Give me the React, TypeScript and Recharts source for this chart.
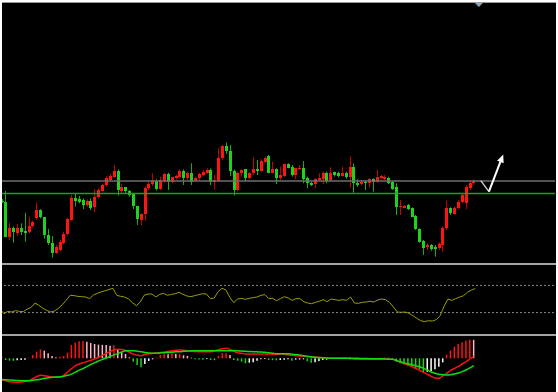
import { ComposedChart, Bar, Line, XAxis, YAxis, ReferenceLine, ReferenceDot, Cell } from 'recharts';

// price candles (arbitrary price units)
const opens = [
  62.5, 61.3, 26.3, 34.7, 30.3, 34.7, 32, 30.7, 37, 44.7,
  52.7, 45.7, 28, 20.3, 10.3, 13, 19.7, 28.7, 43, 65.3,
  63.7, 63, 58, 61.7, 55.7, 66.3, 72.3, 78, 83, 86.3,
  92, 72, 75.7, 72, 68.7, 57, 43, 49, 74.7, 79,
  82.3, 73.7, 82, 88.7, 81.3, 84.7, 85.7, 92.3, 84.7, 90.3,
  82, 84.7, 88, 90.3, 93, 81.3, 82.3, 105.3, 117.3, 112.3,
  92.3, 73, 89.7, 93.7, 84.7, 89.7, 93.7, 92.3, 101.3, 107,
  90.3, 93.7, 84.7, 87, 99, 96.3, 88, 94, 95.3, 85.3,
  80.3, 78.7, 83, 84, 90.3, 83, 90.7, 90.3, 87.3, 89.7,
  85.7, 96.3, 80.3, 78.7, 81.3, 79.7, 83.7, 81.3, 84.7, 83.7,
  85.3, 81.3, 75.7, 55.7, 55.3, 58, 54.7, 47, 33.7, 22,
  15.7, 18, 16.3, 14.7, 18, 34.7, 54.7, 48.7, 54.7, 61.3,
  60.3, 74.7, 80,
];
const highs = [
  64, 72, 40.3, 36.3, 39, 39.7, 50.3, 46.3, 42.3, 60.3,
  53.7, 45.7, 34, 27, 18, 23, 31.3, 45.3, 68, 69,
  67, 64.7, 63.7, 64.7, 73.7, 74.7, 79.7, 87, 89, 98,
  93.7, 79.7, 75.7, 73, 68.7, 57, 49.7, 76.3, 81.3, 89.7,
  83.7, 86.3, 90.3, 90.3, 86.3, 88, 93.7, 93.7, 91.3, 99.7,
  86.3, 90.3, 93, 94.7, 94.7, 88, 114.7, 118, 120.3, 118,
  93.7, 91.3, 93.7, 93.7, 91.3, 105.7, 103, 103.7, 106.3, 108,
  101.3, 94.7, 96.3, 99.7, 99.7, 98, 95.3, 98, 102, 86.3,
  81.3, 84.7, 89.7, 91.3, 91.3, 95.7, 91.3, 91.3, 96.3, 91.3,
  106.3, 99.7, 83.7, 83, 83, 84.7, 84.7, 93, 88, 88,
  86.3, 82, 79.7, 63, 58, 59, 55.7, 48, 34.7, 23,
  19.7, 19, 18, 20.3, 36.3, 62.3, 55.7, 56.3, 63, 69.7,
  78, 83, 83.7,
];
const lows = [
  60, 25.7, 23, 20.3, 27, 28, 21.3, 29.7, 35.7, 43,
  44.7, 24.3, 18, 5.3, 9, 11.3, 18.7, 27.3, 42.3, 56.3,
  59.7, 54, 56.3, 53, 50.7, 64.7, 71.3, 76.3, 82, 85.3,
  67.3, 69.7, 69, 66.3, 54, 38, 38, 42.3, 73, 77,
  72.3, 73, 80.3, 73, 79.7, 83.7, 84.7, 78, 83, 78,
  81, 83, 87, 89.3, 78, 73.7, 81.3, 103, 109, 87,
  67.3, 72, 86.3, 81.3, 83.7, 88, 88, 90.7, 99.7, 89.7,
  89.7, 79, 83, 86.3, 94.7, 86.3, 83.7, 93, 79.7, 74.7,
  77, 74.7, 82.3, 79, 79.7, 81.3, 86.3, 85.7, 86.3, 84.3,
  75.7, 70.3, 76.3, 77.7, 73, 75.7, 71.3, 80.3, 83.7, 83,
  79, 73, 48, 48, 54.7, 53, 45.7, 33, 20.3, 8,
  13, 12.3, 6.3, 13, 11.3, 33, 48, 48, 53.7, 59.7,
  53.7, 73, 78,
];
const closes = [
  60.7, 25.7, 35.3, 30.7, 35.3, 31.3, 30.3, 37.3, 40.7, 53,
  45.7, 28.3, 19.7, 10.3, 15.7, 21.3, 29, 43.7, 65.3, 62.3,
  61.3, 58, 62, 54.7, 66.3, 73, 78, 84.7, 87.3, 92.3,
  73, 75.7, 72, 68, 57, 43.7, 49, 75.3, 78.7, 82.3,
  74, 83, 88.7, 81.3, 85.7, 87, 92.3, 84.7, 90.3, 81.3,
  85.3, 88.7, 91.3, 93, 81.3, 83, 105.3, 117.3, 112.3, 92.3,
  73, 89.7, 93, 85.3, 89.7, 93.7, 92, 102, 105.3, 90.3,
  93.7, 84.7, 88, 99, 95.3, 88, 94.7, 95.3, 84, 79.7,
  78, 83.7, 85.3, 90.3, 82.3, 90.3, 88, 87, 89.7, 85.7,
  96.3, 79.7, 78, 81.3, 80.3, 83.7, 81.3, 86.3, 87, 86.3,
  80.3, 74, 55.7, 57, 57, 54, 46.3, 33.7, 21.3, 14.7,
  18, 13.7, 13.7, 18.7, 35.3, 54.7, 50.3, 55.3, 61.3, 68,
  75.7, 80.3, 82.3,
];

const rsi = [
  35.3, 28.4, 31.8, 30.9, 32.8, 31.8, 31.4, 35.3, 37.7, 44.1,
  40.7, 36.3, 33.3, 30.9, 32.3, 36.3, 41.7, 48.1, 55.4, 54.9,
  53.9, 53.4, 52.9, 50.5, 55.9, 58.3, 60.5, 62.2, 64, 65.7,
  55.4, 53.9, 52.9, 50, 44.6, 40.2, 45.6, 55.4, 57.3, 57.3,
  52.9, 56.8, 58.3, 55.4, 56.8, 57.8, 59.8, 56.8, 54.4, 53.4,
  54.9, 56.4, 57.8, 57.3, 50.5, 51.5, 60.8, 65.7, 63.2, 52.4,
  44.6, 50, 51, 49.5, 51, 52, 52.9, 55.4, 56.4, 50.5,
  51, 47.5, 50.5, 53.4, 51.5, 48, 50.5, 50.5, 46, 44.1,
  43.1, 45.1, 46.6, 49, 46, 50, 49, 48, 49, 48,
  52.9, 44.1, 43.6, 45.1, 45.6, 46.6, 45.6, 48.5, 50, 49,
  45.1, 38.2, 30.9, 30.4, 30.9, 28.9, 25.5, 21.6, 18.1, 16.7,
  18.1, 17.6, 19.6, 25.5, 39.2, 50, 48, 50.5, 52.9, 54.9,
  59.8, 63.2, 65.2,
];

const macdHist = [
  3, -5, -7, -7.5, -6, -5, -4, 2, 10, 20,
  27, 23, 15, 7, 3, 5, 7, 17, 40, 47,
  51, 52, 50, 46, 43, 41, 40.5, 40, 38, 39,
  27, 20, 13, 3, -10, -20, -27, -17, -8, -3,
  2, 10, 13, 12.5, 15, 13, 13.5, 9, 7, 2,
  -3, -3.5, -4, -2, -5, -5.5, 7, 15, 15.5, 10,
  -5, -7, -10, -15, -13, -12, -7, -3, -2, -5,
  -5.5, -6, -5, -4.5, -3, -7, -4, -3.5, -3, -9,
  -13, -12, -8, -5, -4, 2, 2.5, 2, 3, 2,
  4, -3.5, -3, -3, -2.5, -3, -2.5, -2, 2, 2.5,
  2, -5, -10, -15, -18, -22, -25, -30, -33, -41,
  -40, -38, -33, -25, -12, 11, 23, 35, 43, 48,
  53, 56, 55.5,
];
const macdMain = [
  -64, -67, -70, -71, -71.5, -71, -69.5, -67, -61, -55,
  -51, -52, -54, -56.5, -57, -57, -51.5, -41, -31, -22,
  -17, -13, -9.5, -6, -2, 3.5, 9, 15, 20.5, 26,
  27.5, 26.5, 23.5, 18, 12.5, 9, 8, 12, 13.5, 15,
  16, 17.5, 19, 21, 22.5, 24, 25, 24, 22.5, 21.5,
  20.5, 20, 20, 20, 20, 22, 26, 28.5, 30, 27,
  21, 16.5, 15, 13, 13, 13, 13, 13, 13, 13,
  12.5, 12, 13, 12, 10.5, 9, 8, 7, 6, 5,
  4, 3.5, 3, 2, 1, 0, 0, 0, 0, 0,
  -1, -2, -3, -3, -3, -3, -3, -3, -2.5, -2,
  -2.5, -3, -7, -12, -16, -20, -25, -30, -36, -42,
  -48, -54, -59, -60, -52, -45, -36, -30, -24, -17,
  -10, -2, 6,
];
const macdSignal = [
  -63.5, -64, -65, -66, -66.5, -67, -67, -67, -66, -64.5,
  -62.5, -60.5, -58.5, -57, -56, -55, -53.5, -51, -47.5, -41.5,
  -35.5, -30.5, -24, -18.5, -13, -8, -3, 1, 5.5, 10.5,
  15, 19, 22.5, 23, 23, 21.5, 19.5, 17.5, 16, 15,
  15.5, 16, 17, 17.5, 18.5, 19.5, 20, 21, 22, 22.5,
  23, 23, 23, 23, 23, 23, 23, 23, 23, 23,
  23, 22.5, 22, 21, 20.5, 20, 19.5, 19, 18, 17,
  15.5, 14, 14, 14, 13.5, 12.5, 11, 10, 8, 6,
  4.5, 3, 2, 1.5, 1, 0.5, 0, 0, 0, 0,
  0, 0, 0, -0.5, -0.5, -1, -1, -1.5, -1.5, -2,
  -2.5, -3, -6.5, -10.5, -13.5, -16.5, -19, -22.5, -25, -30,
  -35, -41, -45, -48, -49, -50, -49, -47, -44, -40,
  -35, -28.5, -22,
];

// levels and annotation (price units / bar index)
const resistance = 82;
const support = 69.5;
const rsiLevels = [70, 30];
const arrowX = [123.8, 125.9, 129.6];
const arrowY = [82.3, 71.3, 108.5];
const shiftBar = 123.3;

const SLOTS = 144; // visible window, empty to the right of the last bar
const W = 557;

const RED = '#ff1414';
const PINK = '#ffb4c4';
const GREEN = '#1ed21e';
const WHITE = '#ffffff';

const rows = Array.from({ length: SLOTS }, (_, i) => ({
  i,
  res: resistance,
  sup: support,
  ...(i < opens.length
    ? {
        open: opens[i],
        high: highs[i],
        low: lows[i],
        close: closes[i],
        range: [lows[i], highs[i]],
        rsi: rsi[i],
        hist: macdHist[i],
        macd: macdMain[i],
        signal: macdSignal[i],
      }
    : {}),
}));

const histColor = (i: number) => {
  const v = macdHist[i];
  if (v == null) return WHITE;
  const p = i > 0 ? macdHist[i - 1] : 0;
  if (v >= 0) return v >= p ? RED : PINK;
  return v < p ? GREEN : WHITE;
};

const Candle = (props: any) => {
  const { x, y, width, height, payload } = props;
  if (!payload || payload.open == null) return null;
  const { open, close, high, low } = payload;
  const top = Math.min(y, y + height);
  const h = Math.abs(height);
  const span = high - low || 1;
  const py = (v: number) => top + ((high - v) / span) * h;
  const up = close >= open;
  const cx = Math.round(x + width / 2) + 0.5;
  const b1 = py(Math.max(open, close));
  const b2 = py(Math.min(open, close));
  return (
    <g>
      <line x1={cx} x2={cx} y1={top} y2={top + h} stroke={up ? '#c80000' : '#12b012'} strokeWidth={1} />
      <rect
        x={cx - 1.5}
        y={b1}
        width={3}
        height={Math.max(b2 - b1, 1)}
        fill={up ? RED : GREEN}
        shapeRendering="crispEdges"
      />
    </g>
  );
};

const ArrowHead = (props: any) => {
  const { x1, y1, x2, y2 } = props;
  const a = Math.atan2(y2 - y1, x2 - x1);
  const len = 8;
  const half = 3.5;
  const bx = x2 - len * Math.cos(a);
  const by = y2 - len * Math.sin(a);
  const nx = -Math.sin(a) * half;
  const ny = Math.cos(a) * half;
  return (
    <g>
      <line x1={x1} y1={y1} x2={bx} y2={by} stroke="#ffffff" strokeWidth={2} />
      <polygon points={`${x2},${y2} ${bx + nx},${by + ny} ${bx - nx},${by - ny}`} fill="#ffffff" />
    </g>
  );
};

const ShiftMarker = (props: any) => {
  const { cx, cy } = props;
  return <polygon points={`${cx - 4},${cy} ${cx + 4},${cy} ${cx},${cy + 4}`} fill="#8fa3bb" />;
};

const margin = { top: 0, right: 0, bottom: 0, left: 0 };

export default function App() {
  return (
    <div style={{ position: 'absolute', left: 0, top: 0, width: 558, height: 392, background: '#fff' }}>
      <div style={{ position: 'absolute', left: 2, top: 2, width: 554, height: 1, background: '#9a9a9a' }} />
      <div
        style={{
          position: 'absolute',
          left: 2,
          top: 3,
          width: 554,
          height: 389,
          background: '#000',
          overflow: 'hidden',
        }}
      >
        <div style={{ position: 'absolute', left: -1.8, top: 0 }}>
          <ComposedChart width={W} height={260} data={rows} margin={margin}>
            <XAxis dataKey="i" type="category" hide />
            <XAxis xAxisId="n" dataKey="i" type="number" domain={[-0.5, SLOTS - 0.5]} allowDataOverflow hide />
            <YAxis domain={[0, 260]} allowDataOverflow hide />
            <Bar dataKey="range" barSize={3} shape={Candle} isAnimationActive={false} />
            <Line
              dataKey="res"
              type="linear"
              stroke="#6e6e6e"
              strokeWidth={1.5}
              dot={false}
              activeDot={false}
              isAnimationActive={false}
            />
            <Line
              dataKey="sup"
              type="linear"
              stroke="#12a812"
              strokeWidth={1.4}
              dot={false}
              activeDot={false}
              isAnimationActive={false}
            />
            <ReferenceLine
              xAxisId="n"
              segment={[{ x: arrowX[0], y: arrowY[0] }, { x: arrowX[1], y: arrowY[1] }]}
              stroke="#d8d8d8"
              strokeWidth={1.3}
            />
            <ReferenceLine
              xAxisId="n"
              segment={[{ x: arrowX[1], y: arrowY[1] }, { x: arrowX[2], y: arrowY[2] }]}
              shape={ArrowHead}
            />
            <ReferenceDot xAxisId="n" x={shiftBar} y={260} r={4} shape={ShiftMarker} />
          </ComposedChart>
        </div>
        <div style={{ position: 'absolute', left: -1.8, top: 262 }}>
          <ComposedChart width={W} height={68} data={rows} margin={margin}>
            <XAxis dataKey="i" type="category" hide />
            <YAxis domain={[0, 100]} hide />
            {rsiLevels.map((lv) => (
              <ReferenceLine key={lv} y={lv} stroke="#8a8a8a" strokeDasharray="2 2" />
            ))}
            <Line
              dataKey="rsi"
              type="linear"
              stroke="#9c9c00"
              strokeWidth={1}
              dot={false}
              activeDot={false}
              isAnimationActive={false}
            />
          </ComposedChart>
        </div>
        <div style={{ position: 'absolute', left: -1.8, top: 333 }}>
          <ComposedChart width={W} height={56} data={rows} margin={margin}>
            <XAxis dataKey="i" type="category" hide />
            <YAxis domain={[-101, 67]} allowDataOverflow hide />
            <Bar dataKey="hist" barSize={1.5} isAnimationActive={false}>
              {rows.map((r) => (
                <Cell key={r.i} fill={histColor(r.i)} />
              ))}
            </Bar>
            <Line
              dataKey="macd"
              type="monotone"
              stroke="#ff1010"
              strokeWidth={1.5}
              dot={false}
              activeDot={false}
              isAnimationActive={false}
            />
            <Line
              dataKey="signal"
              type="monotone"
              stroke="#10dd10"
              strokeWidth={1.5}
              dot={false}
              activeDot={false}
              isAnimationActive={false}
            />
          </ComposedChart>
        </div>
        <div style={{ position: 'absolute', left: 0, top: 260, width: 554, height: 2, background: '#a4a4a4' }} />
        <div style={{ position: 'absolute', left: 0, top: 331, width: 554, height: 2, background: '#a4a4a4' }} />
      </div>
    </div>
  );
}
